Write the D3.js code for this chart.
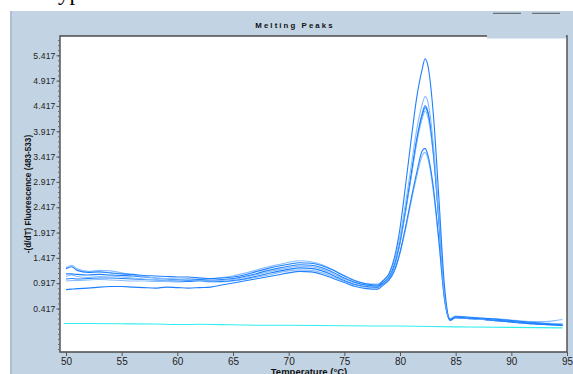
<!DOCTYPE html>
<html>
<head>
<meta charset="utf-8">
<script src="https://cdn.jsdelivr.net/npm/d3@7"></script>
<style>
  html, body { margin: 0; padding: 0; background: #ffffff; }
  svg { display: block; }
</style>
</head>
<body>
<svg id="chart" width="573" height="374"></svg>
<script>
// Temperature grid (°C) shared by the sample curves
const temps = [50, 50.5, 51, 52, 53, 54, 55, 56, 57, 58, 59, 60, 61, 62, 63, 64, 65, 66, 67, 68,
  69, 70, 71, 72, 73, 74, 75, 76, 77, 78, 78.5, 79, 79.5, 80, 80.5, 81, 81.5, 82, 82.25, 82.5,
  83, 83.5, 84, 84.5, 85, 86, 87, 88, 89, 90, 91, 92, 93, 94, 94.6];

// -(d/dT) fluorescence for each sample
const sample1 = [1.20, 1.24, 1.17, 1.13, 1.14, 1.12, 1.10, 1.09, 1.07, 1.06, 1.05, 1.04, 1.04, 1.02, 1.01, 1.02, 1.04, 1.08, 1.14, 1.20,
  1.25, 1.29, 1.32, 1.31, 1.26, 1.17, 1.06, 0.96, 0.90, 0.88,
  0.97, 1.10, 1.42, 2.00, 2.85, 3.75, 4.58, 5.15, 5.35, 5.22, 4.24, 2.57, 0.85, 0.20,
  0.26, 0.25, 0.23, 0.22, 0.20, 0.18, 0.16, 0.14, 0.12, 0.10, 0.09];
const sample2 = [1.22, 1.27, 1.20, 1.15, 1.17, 1.16, 1.12, 1.08, 1.05, 1.02, 1.01, 1.00, 1.01, 1.02, 1.01, 1.03, 1.06, 1.11, 1.17, 1.23,
  1.28, 1.33, 1.36, 1.34, 1.28, 1.18, 1.07, 0.97, 0.91, 0.90,
  0.97, 1.09, 1.35, 1.83, 2.50, 3.22, 3.95, 4.45, 4.60, 4.50, 3.65, 2.24, 0.72, 0.22,
  0.27, 0.25, 0.24, 0.22, 0.21, 0.19, 0.17, 0.16, 0.16, 0.18, 0.20];
const sample3 = [1.10, 1.10, 1.09, 1.08, 1.09, 1.08, 1.07, 1.06, 1.04, 1.02, 1.00, 0.99, 0.98, 0.99, 0.98, 0.99, 1.01, 1.05, 1.10, 1.16,
  1.21, 1.25, 1.28, 1.27, 1.22, 1.13, 1.02, 0.93, 0.88, 0.86,
  0.93, 1.04, 1.29, 1.75, 2.39, 3.07, 3.76, 4.27, 4.42, 4.31, 3.51, 2.15, 0.70, 0.19,
  0.25, 0.23, 0.22, 0.20, 0.18, 0.16, 0.14, 0.12, 0.10, 0.09, 0.08];
const sample4 = [1.05, 1.08, 1.05, 1.03, 1.05, 1.06, 1.04, 1.02, 1.00, 0.99, 0.97, 0.96, 0.97, 0.98, 0.96, 0.97, 0.99, 1.03, 1.08, 1.13,
  1.18, 1.22, 1.25, 1.24, 1.19, 1.10, 1.00, 0.92, 0.87, 0.85,
  0.92, 1.02, 1.27, 1.72, 2.34, 3.00, 3.68, 4.17, 4.32, 4.20, 3.43, 2.11, 0.69, 0.21,
  0.24, 0.23, 0.21, 0.20, 0.19, 0.17, 0.15, 0.14, 0.13, 0.12, 0.12];
const sample5 = [1.00, 1.01, 1.00, 1.01, 1.02, 1.02, 1.01, 1.00, 0.99, 0.98, 0.97, 0.96, 0.95, 0.97, 0.95, 0.95, 0.97, 1.00, 1.05, 1.10,
  1.15, 1.19, 1.22, 1.21, 1.16, 1.07, 0.97, 0.89, 0.85, 0.84,
  0.90, 0.98, 1.17, 1.53, 2.03, 2.58, 3.10, 3.53, 3.58, 3.45, 2.80, 1.75, 0.60, 0.20,
  0.23, 0.22, 0.21, 0.19, 0.17, 0.15, 0.13, 0.11, 0.10, 0.09, 0.08];
const sample6 = [0.96, 0.97, 0.97, 0.98, 0.99, 0.98, 0.97, 0.96, 0.96, 0.95, 0.95, 0.94, 0.95, 0.96, 0.94, 0.94, 0.96, 0.99, 1.03, 1.07,
  1.12, 1.16, 1.18, 1.17, 1.12, 1.04, 0.95, 0.88, 0.84, 0.83,
  0.89, 0.97, 1.15, 1.50, 1.98, 2.52, 3.02, 3.44, 3.50, 3.38, 2.72, 1.70, 0.58, 0.19,
  0.25, 0.24, 0.22, 0.21, 0.19, 0.17, 0.15, 0.13, 0.12, 0.11, 0.10];
const sample7 = [0.79, 0.80, 0.81, 0.82, 0.84, 0.85, 0.85, 0.84, 0.83, 0.82, 0.84, 0.83, 0.82, 0.83, 0.84, 0.88, 0.92, 0.96, 1.00, 1.04,
  1.08, 1.12, 1.15, 1.14, 1.09, 1.01, 0.93, 0.85, 0.81, 0.80,
  0.88, 0.99, 1.25, 1.71, 2.34, 3.03, 3.72, 4.23, 4.38, 4.28, 3.48, 2.13, 0.70, 0.18,
  0.24, 0.22, 0.21, 0.19, 0.17, 0.15, 0.13, 0.12, 0.11, 0.10, 0.09];

// Negative control trace
const controlTemps = [49.8, 52, 55, 58, 60, 62, 65, 68, 70, 75, 80, 85, 90, 94.6];
const controlValues = [0.12, 0.12, 0.115, 0.11, 0.10, 0.105, 0.095, 0.085, 0.085, 0.075, 0.07, 0.055, 0.045, 0.035];

const xTicks = [50, 55, 60, 65, 70, 75, 80, 85, 90, 95];
const yTicks = [0.417, 0.917, 1.417, 1.917, 2.417, 2.917, 3.417, 3.917, 4.417, 4.917, 5.417];

const seriesList = [
  { values: sample7, shade: "dark" },
  { values: sample6, shade: "light" },
  { values: sample5, shade: "dark" },
  { values: sample4, shade: "light" },
  { values: sample3, shade: "dark" },
  { values: sample2, shade: "light" },
  { values: sample1, shade: "dark" }
];

const shadeColor = { dark: "#1e80ff", light: "#86bdff" };
const panelColor = "#c2d4e4";

const svg = d3.select("#chart");

// Fragment of surrounding document text above the panel
svg.append("text")
  .attr("x", 58).attr("y", 0)
  .attr("font-family", "'Liberation Serif', 'DejaVu Serif', serif")
  .attr("font-size", 23)
  .attr("fill", "#000")
  .text("yp");

// Panel background
svg.append("rect")
  .attr("x", 10).attr("y", 11).attr("width", 563).attr("height", 363)
  .attr("fill", panelColor);
svg.append("rect")
  .attr("x", 10).attr("y", 11).attr("width", 2).attr("height", 363)
  .attr("fill", "#aebfd0");

// Plot frame
const plot = { left: 60, top: 36, right: 567, bottom: 352 };

const x = d3.scaleLinear().domain([50, 95]).range([66, 567]);
const y = d3.scaleLinear().domain([0.417, 5.417]).range([308.5, 55.3]);

svg.append("rect")
  .attr("x", plot.left).attr("y", plot.top)
  .attr("width", plot.right - plot.left).attr("height", plot.bottom - plot.top)
  .attr("fill", "#ffffff");

svg.append("defs").append("clipPath").attr("id", "plotClip")
  .append("rect")
  .attr("x", plot.left).attr("y", plot.top)
  .attr("width", plot.right - plot.left).attr("height", plot.bottom - plot.top);

const line = d3.line()
  .x(d => x(d[0]))
  .y(d => y(d[1]))
  .curve(d3.curveMonotoneX);

const traces = svg.append("g").attr("clip-path", "url(#plotClip)");

traces.append("path")
  .datum(controlTemps.map((t, i) => [t, controlValues[i]]))
  .attr("d", line)
  .attr("fill", "none")
  .attr("stroke", "#30eeee")
  .attr("stroke-width", 1.1);

seriesList.forEach(s => {
  traces.append("path")
    .datum(temps.map((t, i) => [t, s.values[i]]))
    .attr("d", line)
    .attr("fill", "none")
    .attr("stroke", shadeColor[s.shade])
    .attr("stroke-width", 1.1);
});

// Frame border
svg.append("path")
  .attr("d", `M${plot.left},${plot.top}H${plot.right}V${plot.bottom}H${plot.left}Z`)
  .attr("fill", "none")
  .attr("stroke", "#4a4a4a")
  .attr("stroke-width", 1.4);

// Y axis: labelled major ticks and minor ticks
const yMinor = d3.range(-40, 58).map(k => 0.417 + k * 0.1).filter(v => y(v) >= plot.top && y(v) <= plot.bottom);
svg.append("g")
  .attr("transform", `translate(${plot.left},0)`)
  .call(d3.axisLeft(y).tickValues(yMinor).tickSize(2).tickFormat(""))
  .call(g => g.select(".domain").remove())
  .call(g => g.selectAll("line").attr("stroke", "#6a6a6a"));

svg.append("g")
  .attr("transform", `translate(${plot.left},0)`)
  .call(d3.axisLeft(y).tickValues(yTicks).tickSize(3.5).tickPadding(1).tickFormat(d3.format(".3f")))
  .call(g => g.select(".domain").remove())
  .call(g => g.selectAll("line").attr("stroke", "#555"))
  .call(g => g.selectAll("text")
    .attr("font-family", "'Liberation Sans', Arial, sans-serif")
    .attr("font-size", 8.6)
    .attr("letter-spacing", 0.15)
    .attr("fill", "#222"));

// X axis
svg.append("g")
  .attr("transform", `translate(0,${plot.bottom})`)
  .call(d3.axisBottom(x).tickValues(xTicks).tickSize(4).tickPadding(2).tickFormat(d3.format("d")))
  .call(g => g.select(".domain").remove())
  .call(g => g.selectAll("line").attr("stroke", "#555"))
  .call(g => g.selectAll("text")
    .attr("font-family", "'Liberation Sans Narrow', 'Liberation Sans', Arial, sans-serif")
    .attr("font-size", 10)
    .attr("fill", "#222"));

// Cover box in the top-right corner and its window marks
svg.append("rect")
  .attr("x", 487).attr("y", 11).attr("width", 79).attr("height", 27.5)
  .attr("fill", panelColor);
svg.append("line").attr("x1", 493).attr("x2", 521).attr("y1", 13.3).attr("y2", 13.3)
  .attr("stroke", "#5a5a5a").attr("stroke-width", 1);
svg.append("line").attr("x1", 532).attr("x2", 560).attr("y1", 13.3).attr("y2", 13.3)
  .attr("stroke", "#5a5a5a").attr("stroke-width", 1);

// Titles
svg.append("text")
  .attr("x", 295).attr("y", 27.5)
  .attr("text-anchor", "middle")
  .attr("font-family", "'Liberation Sans', Arial, sans-serif")
  .attr("font-weight", "bold")
  .attr("font-size", 7.8)
  .attr("letter-spacing", 2.1)
  .attr("fill", "#111")
  .text("Melting Peaks");

svg.append("text")
  .attr("transform", "translate(30.5,194) rotate(-90)")
  .attr("text-anchor", "middle")
  .attr("font-family", "'Liberation Sans', Arial, sans-serif")
  .attr("font-weight", "bold")
  .attr("font-size", 8.2)
  .attr("fill", "#111")
  .text("-(d/dT) Fluorescence (483-533)");

svg.append("text")
  .attr("x", 309).attr("y", 375)
  .attr("text-anchor", "middle")
  .attr("font-family", "'Liberation Sans', Arial, sans-serif")
  .attr("font-weight", "bold")
  .attr("font-size", 9.5)
  .attr("fill", "#111")
  .text("Temperature (°C)");
</script>
</body>
</html>
